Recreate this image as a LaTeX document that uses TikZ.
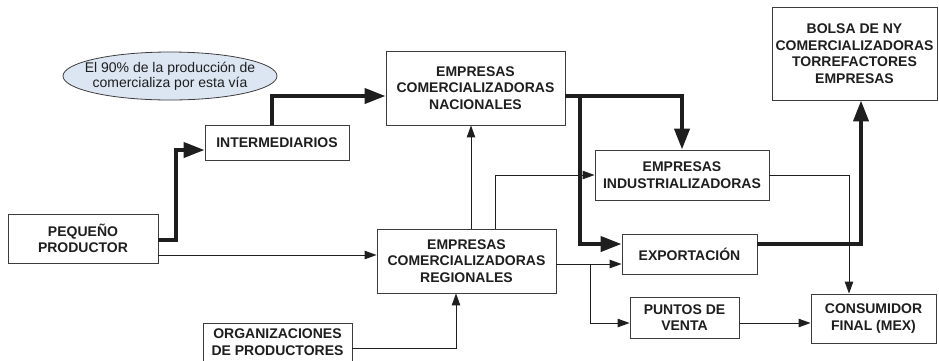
\documentclass[tikz,border=0pt]{standalone}
\usepackage{fontspec}
\setmainfont{Liberation Sans}
\usetikzlibrary{arrows.meta,shapes.geometric}
\definecolor{ellfill}{HTML}{DCE6F2}
\definecolor{ink}{HTML}{1E1E1E}
\definecolor{edge}{HTML}{3C3C3C}
\begin{document}
\begin{tikzpicture}[x=1pt,y=-1pt,
  box/.style={draw=edge,line width=0.9pt,fill=white,font=\fontsize{14}{16.6}\selectfont\bfseries,text=ink,align=center,inner sep=0pt},
  thinarrow/.style={draw=ink,line width=1pt,-{Triangle[length=12pt,width=8.5pt]}},
  thickarrow/.style={draw=ink,line width=4pt,-{Triangle[length=21pt,width=15pt]}},
]
\useasboundingbox (0,0) rectangle (939,360);
\clip (0,0) rectangle (939,360);

% ellipse note
\node[ellipse,draw=edge,line width=0.8pt,fill=ellfill,minimum width=214pt,minimum height=48pt,inner sep=0pt] (note) at (170,76) {};
\node[font=\fontsize{14}{15}\selectfont,text=ink,align=center,inner sep=0pt] (notetext) at (note.center) {El 90\% de la producción de\\comercializa por esta vía};

% boxes
\node[box,minimum width=179pt,minimum height=74pt] (nac) at (475.5,88) {EMPRESAS\\COMERCIALIZADORAS\\NACIONALES};
\node[box,minimum width=144pt,minimum height=35pt] (inter) at (277,142.5) {INTERMEDIARIOS};
\node[box,minimum width=165pt,minimum height=93pt] (bolsa) at (854.5,53.5) {BOLSA DE NY\\COMERCIALIZADORAS\\TORREFACTORES\\EMPRESAS};
\node[box,minimum width=174pt,minimum height=50pt] (ind) at (682,175) {EMPRESAS\\INDUSTRIALIZADORAS};
\node[box,minimum width=150pt,minimum height=49pt] (peq) at (83,238.5) {PEQUEÑO\\PRODUCTOR};
\node[box,minimum width=179pt,minimum height=64pt] (reg) at (466.5,261) {EMPRESAS\\COMERCIALIZADORAS\\REGIONALES};
\node[box,minimum width=135pt,minimum height=40pt] (exp) at (689.5,254) {EXPORTACIÓN};
\node[box,minimum width=109pt,minimum height=41pt] (pv) at (684.5,317.5) {PUNTOS DE\\VENTA};
\node[box,minimum width=125pt,minimum height=49pt] (cons) at (873.5,318.5) {CONSUMIDOR\\FINAL (MEX)};
\node[box,minimum width=149pt,minimum height=38pt] (org) at (277.5,342) {ORGANIZACIONES\\DE PRODUCTORES};

% branch points
\coordinate (b1) at (580,96);
\coordinate (b2) at (590,264);

% thick connectors
\draw[thickarrow] (peq.east |- 0,240) -| (176,150) -- (inter.west |- 0,150);
\draw[thickarrow] (inter.north -| 272,0) -- (272,96) -- (nac.west |- 0,96);
\draw[thickarrow] (nac.east |- 0,96) -| (ind.north);
\draw[thickarrow] (b1) |- (exp.west |- 0,244);
\draw[thickarrow] (exp.east |- 0,244) -| (bolsa.south -| 861,0);

% thin connectors
\draw[thinarrow] (peq.east |- 0,255) -- (reg.west |- 0,255);
\draw[thinarrow] (reg.north -| 471,0) -- (nac.south -| 471,0);
\draw[thinarrow] (reg.north -| 495,0) |- (ind.west);
\draw[thinarrow] (reg.east |- 0,264) -- (exp.west |- 0,264);
\draw[thinarrow] (b2) |- (pv.west |- 0,323);
\draw[thinarrow] (ind.east) -| (cons.north -| 849,0);
\draw[thinarrow] (pv.east |- 0,323) -- (cons.west |- 0,323);
\draw[thinarrow] (org.east |- 0,348) -| (reg.south -| 456,0);
\end{tikzpicture}
\end{document}
